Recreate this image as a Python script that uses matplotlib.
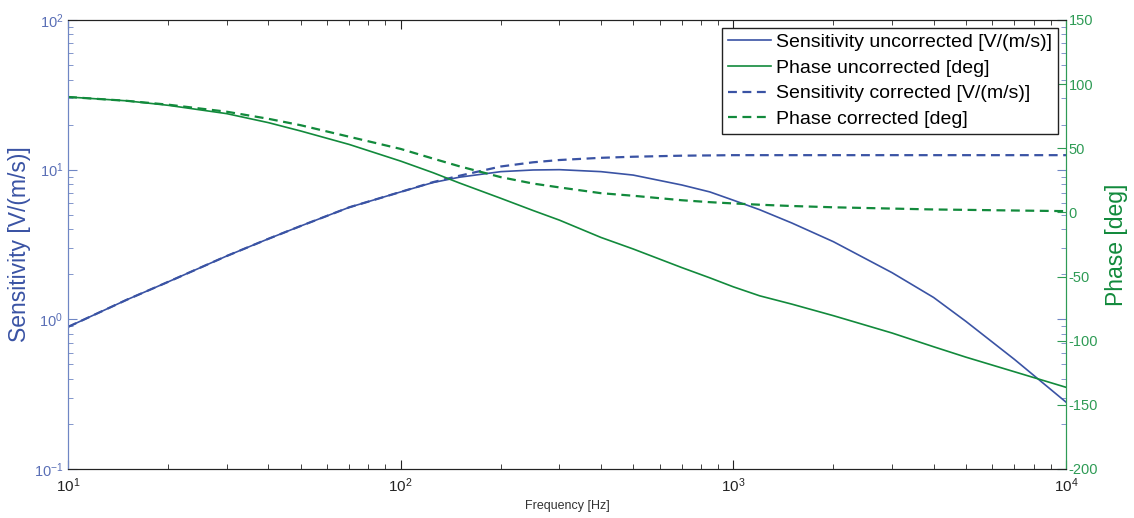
import matplotlib
matplotlib.use("Agg")
import matplotlib.pyplot as plt
from matplotlib.ticker import LogLocator, MultipleLocator, NullFormatter

plt.rcParams['font.family'] = ['Liberation Sans', 'DejaVu Sans']
plt.rcParams['mathtext.default'] = 'regular'
plt.rcParams['axes.unicode_minus'] = False

# frequency samples [Hz]
freq = [10, 15, 20, 30, 40, 50, 70, 100, 125, 150, 200, 250, 300, 400, 500, 700,
        850, 1000, 1200, 1500, 2000, 3000, 4000, 5000, 7000, 10000]

# sensitivity [V/(m/s)]
sens_uncorr = [0.89, 1.35, 1.78, 2.65, 3.45, 4.2, 5.6, 7.1, 8.2, 8.9, 9.7, 9.95, 10.0,
               9.7, 9.2, 7.9, 7.1, 6.25, 5.4, 4.4, 3.3, 2.05, 1.4, 0.97, 0.54, 0.28]
sens_corr = [0.89, 1.35, 1.78, 2.65, 3.45, 4.2, 5.6, 7.1, 8.25, 9.1, 10.5, 11.2, 11.6,
             12.0, 12.2, 12.4, 12.45, 12.5, 12.5, 12.5, 12.5, 12.5, 12.5, 12.5, 12.5, 12.5]

# phase [deg]
phase_uncorr = [90, 87, 83.5, 77, 70, 63.5, 53, 40, 31, 23, 11, 1.5, -6, -19.5, -28.5,
                -43, -51, -58, -65, -71.5, -80.5, -94, -104.7, -112.8, -124.2, -136.3]
phase_corr = [90, 87, 84, 78.5, 73, 68, 59, 49.5, 42, 36, 27.5, 22.5, 19.5, 15, 13,
              9.5, 8, 7, 6, 5, 4, 3, 2.3, 2, 1.5, 1]

blue = '#3a53a4'
green = '#128a3c'
blue_tick = '#6f86c4'
green_tick = '#2e9b55'

fig = plt.figure(figsize=(11.34, 5.18), dpi=100)
ax = fig.add_axes([0.06, 0.0946, 0.880, 0.8668])
ax2 = ax.twinx()

l1, = ax.plot(freq, sens_uncorr, color=blue, lw=1.2)
l3, = ax.plot(freq, sens_corr, color=blue, lw=1.6, ls=(0, (4, 2.5)))
l2, = ax2.plot(freq, phase_uncorr, color=green, lw=1.2)
l4, = ax2.plot(freq, phase_corr, color=green, lw=1.6, ls=(0, (4, 2.5)))

ax.set_xscale('log')
ax.set_yscale('log')
ax.set_xlim(10, 1e4)
ax.set_ylim(0.1, 100)
ax2.set_ylim(-200, 150)
ax2.yaxis.set_major_locator(MultipleLocator(50))

ax.xaxis.set_minor_locator(LogLocator(base=10, subs=range(2, 10)))
ax.yaxis.set_minor_locator(LogLocator(base=10, subs=range(2, 10)))
ax.xaxis.set_minor_formatter(NullFormatter())
ax.yaxis.set_minor_formatter(NullFormatter())

ax.tick_params(axis='x', which='both', direction='in', top=True,
               colors='#222222', labelsize=11)
ax.tick_params(axis='x', which='major', length=6.5, pad=5)
ax.tick_params(axis='x', which='minor', length=3.5)
ax.tick_params(axis='y', which='both', direction='in', right=True,
               color=blue_tick, labelcolor='#5a6fb6', labelsize=10.5)
ax.tick_params(axis='y', which='major', length=6.5)
ax.tick_params(axis='y', which='minor', length=3.5)
ax2.tick_params(axis='y', which='both', direction='in', color=green_tick,
                labelcolor=green_tick, labelsize=10.5, length=6.5, pad=2)

for a in (ax, ax2):
    a.spines['left'].set_color(blue_tick)
    a.spines['right'].set_color(green_tick)
    a.spines['top'].set_color('#222222')
    a.spines['bottom'].set_color('#222222')

ax.set_xlabel('Frequency [Hz]', fontsize=9, color='#333333', labelpad=4)
ax.set_ylabel('Sensitivity [V/(m/s)]', fontsize=16.5, color=blue, labelpad=2)
ax2.set_ylabel('Phase [deg]', fontsize=16.5, color=green, labelpad=5)

leg = ax2.legend([l1, l2, l3, l4],
                 ['Sensitivity uncorrected [V/(m/s)]', 'Phase uncorrected [deg]',
                  'Sensitivity corrected [V/(m/s)]', 'Phase corrected [deg]'],
                 loc='upper right', fontsize=14, fancybox=False, framealpha=1,
                 edgecolor='#222222', handlelength=2.2, handletextpad=0.3,
                 labelspacing=0.41, borderpad=0.3, borderaxespad=0.4)
leg.get_frame().set_linewidth(1.0)

fig.savefig('out.png', dpi=100)
